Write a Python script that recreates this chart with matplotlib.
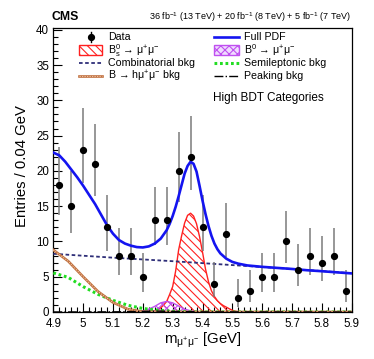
import numpy as np
import matplotlib
matplotlib.use("Agg")
import matplotlib.pyplot as plt
from matplotlib.lines import Line2D
from matplotlib.patches import Rectangle
from matplotlib.ticker import MultipleLocator

plt.rcParams['font.family'] = ['Liberation Sans', 'DejaVu Sans']
plt.rcParams['mathtext.fontset'] = 'custom'
plt.rcParams['mathtext.rm'] = 'Liberation Sans'
plt.rcParams['mathtext.it'] = 'Liberation Sans:italic'
plt.rcParams['mathtext.bf'] = 'Liberation Sans:bold'
plt.rcParams['hatch.linewidth'] = 0.8

# ---------------- data ----------------
bin_centers = [4.92, 4.96, 5.00, 5.04, 5.08, 5.12, 5.16, 5.20, 5.24, 5.28,
               5.32, 5.36, 5.40, 5.44, 5.48, 5.52, 5.56, 5.60, 5.64, 5.68,
               5.72, 5.76, 5.80, 5.84, 5.88]
counts = [18, 15, 23, 21, 12, 8, 8, 5, 13, 13,
          20, 22, 12, 4, 11, 2, 3, 5, 5, 10,
          6, 8, 7, 8, 3]

pdf_x = [4.90, 4.92, 4.94, 4.96, 4.98, 5.00, 5.02, 5.04, 5.06, 5.08, 5.10, 5.12,
         5.14, 5.16, 5.18, 5.20, 5.22, 5.24, 5.26, 5.28, 5.29, 5.30, 5.31, 5.32,
         5.33, 5.34, 5.35, 5.36, 5.37, 5.38, 5.39, 5.40, 5.41, 5.42, 5.43, 5.44,
         5.45, 5.46, 5.48, 5.50, 5.52, 5.55, 5.60, 5.65, 5.70, 5.75, 5.80, 5.85, 5.90]
pdf_y = [22.6, 22.2, 21.3, 20.2, 19.1, 17.9, 16.6, 15.3, 13.8, 12.3, 11.1, 10.2,
         9.7, 9.4, 9.2, 9.15, 9.3, 9.7, 10.4, 11.6, 12.5, 13.6, 14.9, 16.4,
         18.0, 19.6, 20.7, 21.3, 21.0, 19.9, 17.9, 15.8, 13.9, 12.2, 10.8, 9.7,
         8.9, 8.3, 7.55, 7.1, 6.85, 6.6, 6.4, 6.25, 6.1, 5.92, 5.78, 5.62, 5.47]

bs_x = [5.22, 5.23, 5.24, 5.25, 5.26, 5.27, 5.28, 5.29, 5.30, 5.31, 5.32, 5.33,
        5.34, 5.35, 5.36, 5.37, 5.38, 5.39, 5.40, 5.41, 5.42, 5.43, 5.44, 5.45,
        5.46, 5.47, 5.48, 5.49, 5.50, 5.51, 5.52, 5.53]
bs_y = [0.0, 0.05, 0.12, 0.3, 0.6, 1.0, 1.5, 2.5, 3.6, 5.8, 8.8, 10.8,
        12.6, 13.7, 14.0, 13.6, 12.5, 10.7, 8.5, 6.1, 4.3, 3.0, 2.2, 1.6,
        1.2, 0.9, 0.68, 0.45, 0.25, 0.1, 0.03, 0.0]

b0_x = [5.16, 5.18, 5.20, 5.22, 5.24, 5.26, 5.28, 5.30, 5.32, 5.34, 5.36, 5.38, 5.40, 5.42]
b0_y = [0.0, 0.04, 0.15, 0.4, 0.8, 1.3, 1.5, 1.3, 0.85, 0.4, 0.17, 0.06, 0.02, 0.0]

comb_x = [4.90, 5.10, 5.30, 5.50, 5.70, 5.90]
comb_y = [8.25, 7.7, 7.2, 6.65, 6.1, 5.5]

semi_x = [4.90, 4.95, 5.00, 5.05, 5.10, 5.15, 5.20, 5.25, 5.30, 5.35, 5.40, 5.90]
semi_y = [5.55, 4.9, 3.6, 2.5, 1.65, 0.95, 0.5, 0.25, 0.1, 0.03, 0.0, 0.0]

bhmm_x = [4.90, 4.95, 5.00, 5.05, 5.10, 5.15, 5.20, 5.25, 5.90]
bhmm_y = [8.8, 7.2, 5.0, 2.9, 1.35, 0.4, 0.05, 0.0, 0.0]

peak_x = [4.90, 5.10, 5.20, 5.25, 5.30, 5.40, 5.90]
peak_y = [0.0, 0.02, 0.08, 0.12, 0.08, 0.02, 0.0]

# Garwood-type asymmetric Poisson intervals (Wilson-Hilferty approximation)
n = np.array(counts, dtype=float)
lo = n * (1 - 1 / (9 * n) - 1 / (3 * np.sqrt(n))) ** 3
hi = (n + 1) * (1 - 1 / (9 * (n + 1)) + 1 / (3 * np.sqrt(n + 1))) ** 3

# ---------------- figure ----------------
W, H = 374, 359
fig = plt.figure(figsize=(W / 100, H / 100), dpi=100)
L, R, T, B = 53.3, 351.7, 28.0, 312.0
ax = fig.add_axes([L / W, 1 - B / H, (R - L) / W, (B - T) / H])

RED = '#ff2020'
VIOLET = '#c050f0'
NAVY = '#2e2e78'
GREEN = '#22dd22'
BROWN = '#c0703f'
BLUE = '#1414f0'
BS_HATCH = '\\\\\\\\'

ax.fill_between(bs_x, 0, bs_y, facecolor='none', edgecolor=RED, hatch=BS_HATCH,
                linewidth=1.0, zorder=2)
ax.fill_between(b0_x, 0, b0_y, facecolor='none', edgecolor=VIOLET, hatch='xxxx',
                linewidth=1.0, zorder=2)
ax.plot(comb_x, comb_y, color=NAVY, lw=1.3, ls=(0, (2.0, 1.4)), zorder=3)
ax.plot(semi_x, semi_y, color=GREEN, lw=2.2, ls=(0, (0.9, 0.9)), zorder=3)
ax.plot(bhmm_x, bhmm_y, color=BROWN, lw=1.9, zorder=3)
ax.plot(bhmm_x, bhmm_y, color='#f6d2b4', lw=0.6, ls=(0, (1.5, 1.5)), zorder=3)
ax.plot(peak_x, peak_y, color='black', lw=1.0, ls='-.', zorder=3)
ax.vlines(bin_centers, lo, hi, color='#7a7a7a', lw=1.1, zorder=3)
ax.plot(pdf_x, pdf_y, color=BLUE, lw=1.9, zorder=4)
ax.plot(bin_centers, counts, 'o', color='black', ms=4.2, zorder=5)

ax.set_xlim(4.9, 5.9)
ax.set_ylim(0, 40.25)
ax.xaxis.set_major_locator(MultipleLocator(0.1))
ax.xaxis.set_minor_locator(MultipleLocator(0.02))
ax.yaxis.set_major_locator(MultipleLocator(5))
ax.yaxis.set_minor_locator(MultipleLocator(1))
ax.tick_params(which='both', direction='in', top=False, right=False, labelsize=8.3,
               width=0.8)
ax.tick_params(which='major', length=6.5)
ax.tick_params(which='minor', length=3.3)
ax.tick_params(axis='x', pad=4)
ax.tick_params(axis='y', pad=3)
ax.set_xticklabels([f"{v:g}" for v in ax.get_xticks()])
for s in ax.spines.values():
    s.set_linewidth(0.9)

ax.set_ylabel('Entries / 0.04 GeV', fontsize=10.7)
ax.yaxis.set_label_coords(-0.083, 0.515)
ax.set_xlabel(r'm$_{\mathrm{μ}^{+}\mathrm{μ}^{-}}$ [GeV]', fontsize=10.7, labelpad=1)

# ---------------- header texts ----------------
def P(px, py):
    return (px / W, 1 - py / H)

fig.text(*P(52, 17), 'CMS', fontsize=8.8, fontweight='bold', va='center', ha='left')
fig.text(*P(351, 17), r'36 fb$^{-1}$ (13 TeV) + 20 fb$^{-1}$ (8 TeV) + 5 fb$^{-1}$ (7 TeV)',
         fontsize=6.5, va='center', ha='right')
fig.text(*P(213, 97.5), 'High BDT Categories', fontsize=8.5, va='center', ha='left')

# ---------------- legend (drawn by hand) ----------------
tf = fig.transFigure
lfs = 7.7
rows = [36.8, 50.3, 63.2, 76.0]
c1h, c1t = (79, 102), 108.3
c2h, c2t = (214, 239), 243.7

def hline(xs, y, **kw):
    a, b = P(xs[0], y), P(xs[1], y)
    fig.add_artist(Line2D([a[0], b[0]], [a[1], b[1]], transform=tf, **kw))

def hrect(xs, y, **kw):
    a = P(xs[0], y + 5)
    b = P(xs[1], y - 5)
    fig.add_artist(Rectangle(a, b[0] - a[0], b[1] - a[1], transform=tf, **kw))

# Data
cx = (c1h[0] + c1h[1]) / 2
a, b = P(cx, rows[0] - 5), P(cx, rows[0] + 5)
fig.add_artist(Line2D([a[0], b[0]], [a[1], b[1]], transform=tf, color='black', lw=1.0))
fig.add_artist(Line2D([a[0]], [P(cx, rows[0])[1]], transform=tf, marker='o', ms=4.2,
                      color='black', ls='none'))
fig.text(*P(c1t, rows[0]), 'Data', fontsize=lfs, va='center')
# Bs
hrect(c1h, rows[1], facecolor='white', edgecolor=RED, hatch=BS_HATCH, lw=1.0)
fig.text(*P(c1t, rows[1]), r'B$^{0}_{\mathrm{s}}$ → μ$^{+}$μ$^{-}$', fontsize=lfs, va='center')
# Comb
hline(c1h, rows[2], color=NAVY, lw=1.3, ls=(0, (2.0, 1.4)))
fig.text(*P(c1t, rows[2]), 'Combinatorial bkg', fontsize=lfs, va='center')
# B -> h mu mu
hline(c1h, rows[3], color=BROWN, lw=1.9)
hline(c1h, rows[3], color='#f6d2b4', lw=0.6, ls=(0, (1.5, 1.5)))
fig.text(*P(c1t, rows[3]), r'B → hμ$^{+}$μ$^{-}$ bkg', fontsize=lfs, va='center')
# Full PDF
hline(c2h, rows[0], color=BLUE, lw=1.9)
fig.text(*P(c2t, rows[0]), 'Full PDF', fontsize=lfs, va='center')
# B0
hrect(c2h, rows[1], facecolor='#f0dcff', edgecolor=VIOLET, hatch='xxxx', lw=1.0)
fig.text(*P(c2t, rows[1]), r'B$^{0}$ → μ$^{+}$μ$^{-}$', fontsize=lfs, va='center')
# Semileptonic
hline(c2h, rows[2], color=GREEN, lw=2.2, ls=(0, (0.9, 0.9)))
fig.text(*P(c2t, rows[2]), 'Semileptonic bkg', fontsize=lfs, va='center')
# Peaking
hline(c2h, rows[3], color='black', lw=1.0, ls='-.')
fig.text(*P(c2t, rows[3]), 'Peaking bkg', fontsize=lfs, va='center')

fig.savefig('out.png', dpi=100)
